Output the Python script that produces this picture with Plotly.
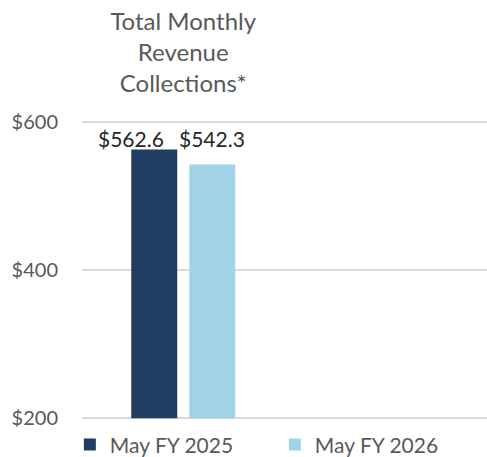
import plotly.graph_objects as go

categories = ["Total Monthly<br>Revenue<br>Collections*", " "]
series_names = ["May FY 2025", "May FY 2026"]
series_values = [[562.6, None], [542.3, None]]
series_colors = ["#203D63", "#A1D4E8"]
y_ticks = [200, 400, 600]
y_tick_labels = ["$200", "$400", "$600"]

FONT = "Lato"
GREY = "#595959"
axis_min = y_ticks[0]

fig = go.Figure()
for name, vals, col in zip(series_names, series_values, series_colors):
    fig.add_trace(go.Bar(x=categories,
                         y=[None if v is None else v - axis_min for v in vals],
                         base=axis_min, name=name, marker_color=col,
                         marker_line_width=0,
                         customdata=vals, hovertemplate="%{customdata}<extra>%{fullData.name}</extra>"))

# data labels placed at a common height, as in the reference
label_y = max(v[0] for v in series_values)
anchors = [("right", -17), ("left", -6)]
for vals, (xa, xs) in zip(series_values, anchors):
    fig.add_annotation(x=categories[0], y=label_y, text=f"${vals[0]:.1f}",
                       showarrow=False, xanchor=xa, xshift=xs, yanchor="bottom",
                       yshift=-3, font=dict(family=FONT, size=21, color="#262626"))

fig.update_layout(
    width=487, height=457,
    margin=dict(l=82, r=0, t=120, b=37, autoexpand=False),
    paper_bgcolor="white", plot_bgcolor="white",
    barmode="group", bargap=0.427, bargroupgap=0.207,
    font=dict(family=FONT, size=20, color=GREY),
    showlegend=True,
    legend=dict(orientation="h", x=-0.03, xanchor="left", y=-0.083, yanchor="middle",
                font=dict(family=FONT, size=21, color=GREY),
                entrywidth=160, entrywidthmode="pixels",
                bgcolor="rgba(0,0,0,0)"),
    xaxis=dict(side="top", showgrid=False, showline=False, ticks="",
               tickfont=dict(family=FONT, size=24, color=GREY),
               ticklabelstandoff=22),
    yaxis=dict(range=[197.5, 602.5], tickvals=y_ticks, ticktext=y_tick_labels,
               showgrid=True, gridcolor="#D9D9D9", gridwidth=1.5,
               zeroline=False, showline=False, ticks="",
               ticklabelstandoff=23,
               tickfont=dict(family=FONT, size=20, color=GREY)),
)
fig.write_html("out.html")
